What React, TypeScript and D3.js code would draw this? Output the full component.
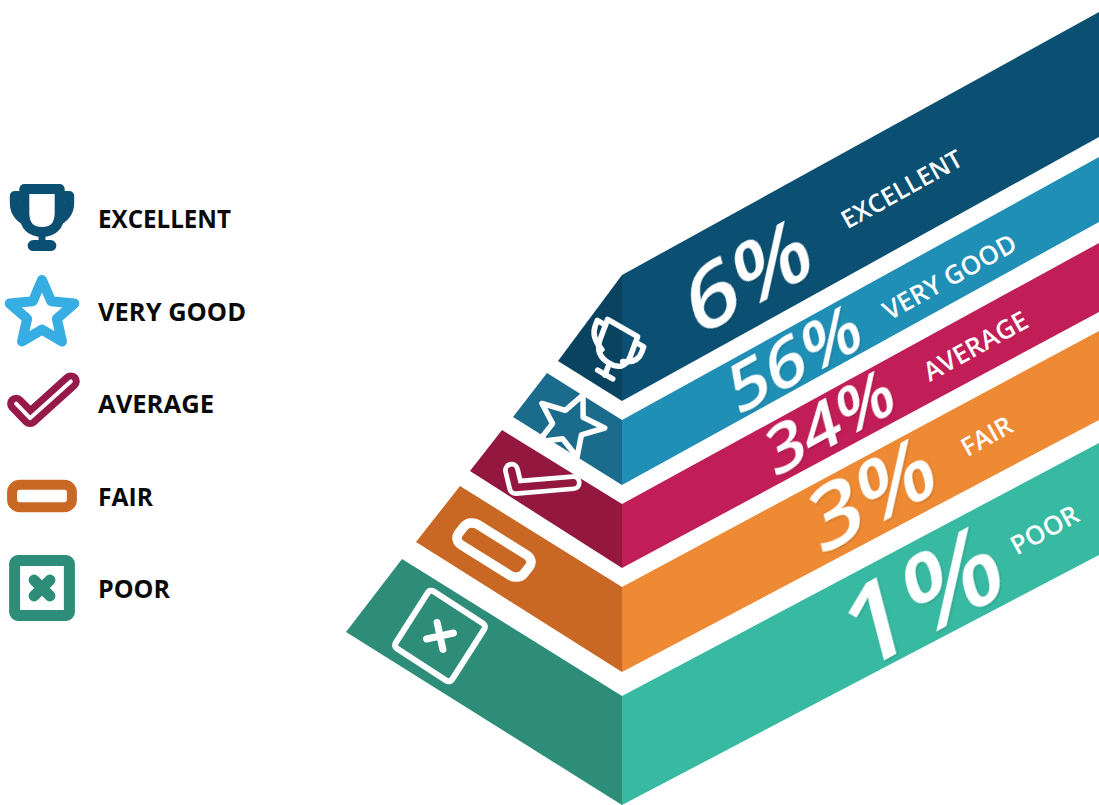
import React from "react";
import * as d3 from "d3";

// Survey ratings, from the top tier of the stack to the bottom
const categories = ["EXCELLENT", "VERY GOOD", "AVERAGE", "FAIR", "POOR"];
const shares = [6, 56, 34, 3, 1];
const iconKinds = ["trophy", "star", "check", "bar", "cross"];

// Palette per tier
const frontColors = ["#0b5072", "#208fb6", "#c11d56", "#ee8a33", "#38b9a2"];
const sideColors = ["#0a435f", "#1a6b8c", "#94173f", "#c96825", "#2e8d79"];
const legendColors = ["#0b5072", "#36ade3", "#951a4a", "#c96825", "#2e8d79"];

// Isometric outline of each tier: the ridge runs vertically at ridgeX
const ridgeX = 622;
const edgeX = 1099;
const ridgeTop = [275, 420, 504, 587, 696];
const ridgeBottom = [401, 485, 568, 672, 805];
const edgeTop = [12, 157, 243, 331, 443];
const edgeBottom = [137, 222, 312, 420, 555];
const sideFaces: [number, number][][] = [
  [[558, 361]],
  [[547, 373], [513, 417]],
  [[502, 430], [470, 471]],
  [[460, 486], [416, 542]],
  [[402, 559], [346, 632]],
];

// Placement of the large percentages and tier captions on the front face
const percentAt: [number, number, number][] = [
  [756, 305, 88],
  [801, 381, 67],
  [836, 444, 65],
  [880, 523, 88],
  [932, 634, 112],
];
const captionAt: [number, number][] = [
  [906, 197],
  [954, 285],
  [980, 354],
  [991, 444],
  [1049, 538],
];
const captionSize = [25, 26, 26, 25.5, 26];

// Legend text widths
const legendTextWidths = [133, 148, 116, 55, 72];

// Affine frame of each icon on the side face: x axis, y axis, centre
const sideFrames: number[][] = [
  [29, 16.5, -10.5, 28, 614, 351],
  [33, 12.9, -14, 30, 569, 425],
  [32, 18.3, -20.9, 25, 535, 483],
  [37, 23, -25, 31, 494, 550],
  [34, 22, -22, 34.5, 440, 636],
];
const legendFrames: [number, number, number][] = [
  [34, 42, 217],
  [34, 42, 314],
  [36, 42, 403],
  [34, 42, 496],
  [33, 42, 588],
];

const outline = d3.line<[number, number]>().curve(d3.curveLinearClosed);
const polyline = d3.line<[number, number]>();

const starTips: [number, number][] = d3.range(10).map((i) => {
  const r = i % 2 === 0 ? 1 : 0.46;
  const a = -Math.PI / 2 + (i * Math.PI) / 5;
  return [r * Math.cos(a), r * Math.sin(a)];
});
const checkPoints: [number, number][] = [
  [-0.72, 0.02],
  [-0.33, 0.42],
  [0.8, -0.6],
];

const NS = "non-scaling-stroke" as const;

function Trophy({ color, solid, frame }: { color: string; solid: boolean; frame: string }) {
  const w = solid ? 10 : 5.5;
  const common = { stroke: color, strokeLinecap: "round" as const, strokeLinejoin: "round" as const, vectorEffect: NS };
  return (
    <g transform={frame}>
      <path d="M-.52,-.62 H-.8 V-.42 Q-.8,-.02 -.36,.16" fill="none" strokeWidth={solid ? 10 : w} {...common} />
      <path d="M.52,-.62 H.8 V-.42 Q.8,-.02 .36,.16" fill="none" strokeWidth={solid ? 10 : w} {...common} />
      <path d="M-.52,-.82 H.52 V-.1 Q.5,.44 0,.44 Q-.5,.44 -.52,-.1 Z" fill={solid ? "#fff" : "none"} strokeWidth={w} {...common} />
      <path d="M0,.44 V.86" fill="none" strokeWidth={solid ? 7 : w} {...common} />
      <path d="M-.26,.84 H.26" fill="none" strokeWidth={solid ? 11 : w} {...common} />
    </g>
  );
}

function Icon({ kind, color, core, solid, frame, widths }: {
  kind: string; color: string; core: string; solid: boolean; frame: string; widths: number[];
}) {
  if (kind === "trophy") return <Trophy color={color} solid={solid} frame={frame} />;
  const round = { strokeLinejoin: "round" as const, strokeLinecap: "round" as const, vectorEffect: NS };
  if (kind === "star") {
    return (
      <g transform={frame}>
        <path d={outline(starTips) ?? ""} fill={solid ? "#fff" : "none"} stroke={color} strokeWidth={widths[0]} strokeLinejoin="round" vectorEffect={NS} />
      </g>
    );
  }
  if (kind === "check") {
    const d = polyline(checkPoints) ?? "";
    return (
      <g transform={frame}>
        <path d={d} fill="none" stroke={color} strokeWidth={widths[0]} {...round} />
        <path d={d} fill="none" stroke={core} strokeWidth={widths[1]} {...round} />
      </g>
    );
  }
  if (kind === "bar") {
    return (
      <g transform={frame}>
        <rect x={-0.88} y={-0.33} width={1.76} height={0.66} rx={0.22} ry={0.22} fill={core} stroke={color} strokeWidth={widths[0]} vectorEffect={NS} />
      </g>
    );
  }
  return (
    <g transform={frame}>
      <rect x={-0.83} y={-0.83} width={1.66} height={1.66} rx={0.1} fill={solid ? "#fff" : "none"} stroke={color} strokeWidth={widths[0]} strokeLinejoin="round" vectorEffect={NS} />
      <path d="M-.24,-.24 L.24,.24 M.24,-.24 L-.24,.24" fill="none" stroke={color} strokeWidth={widths[1]} {...round} />
    </g>
  );
}

const legendWidths: Record<string, number[]> = {
  star: [10],
  check: [18, 4],
  bar: [10],
  cross: [11, 11],
};
const sideWidths: Record<string, number[]> = {
  star: [5.5],
  check: [17, 7.5],
  bar: [9.5],
  cross: [6, 7],
};

export default function App() {
  const legendY = d3.scalePoint<string>().domain(categories).range([228, 598]);
  const font = "'Open Sans', sans-serif";

  return (
    <svg width={1099} height={805} viewBox="0 0 1099 805" style={{ position: "absolute", left: 0, top: 0, background: "#fff" }} fontFamily={font}>
      <defs>
        <filter id="lift" x="-20%" y="-20%" width="140%" height="140%">
          <feDropShadow dx="1" dy="1.5" stdDeviation="1.2" floodColor="#000" floodOpacity="0.16" />
        </filter>
      </defs>

      {categories.map((name, i) => {
        const front: [number, number][] = [
          [ridgeX, ridgeTop[i]],
          [edgeX, edgeTop[i]],
          [edgeX, edgeBottom[i]],
          [ridgeX, ridgeBottom[i]],
        ];
        const side: [number, number][] = [
          [ridgeX, ridgeTop[i]],
          ...sideFaces[i],
          [ridgeX, ridgeBottom[i]],
        ];
        return (
          <g key={name}>
            <path d={outline(side) ?? ""} fill={sideColors[i]} />
            <path d={outline(front) ?? ""} fill={frontColors[i]} />
          </g>
        );
      })}

      {categories.map((name, i) => {
        const [a, b, c, d, e, f] = sideFrames[i];
        const kind = iconKinds[i];
        return (
          <Icon
            key={name}
            kind={kind}
            color="#fff"
            core={sideColors[i]}
            solid={false}
            frame={`matrix(${a} ${b} ${c} ${d} ${e} ${f})`}
            widths={sideWidths[kind] ?? []}
          />
        );
      })}

      {categories.map((name, i) => {
        const [x, y, size] = percentAt[i];
        return (
          <text
            key={name}
            transform={`matrix(0.95 -0.525 0.25 0.96 ${x} ${y})`}
            textAnchor="middle"
            fontSize={size}
            fontWeight={600}
            fill="#fff"
            filter="url(#lift)"
          >
            {shares[i]}%
          </text>
        );
      })}

      {categories.map((name, i) => {
        const [x, y] = captionAt[i];
        return (
          <text
            key={name}
            transform={`translate(${x} ${y}) rotate(-29)`}
            textAnchor="middle"
            fontSize={captionSize[i]}
            fontWeight={600}
            fill="#fff"
          >
            {name}
          </text>
        );
      })}

      {categories.map((name, i) => {
        const [u, x, y] = legendFrames[i];
        const kind = iconKinds[i];
        return (
          <g key={name}>
            <Icon
              kind={kind}
              color={legendColors[i]}
              core="#fff"
              solid
              frame={`matrix(${u} 0 0 ${u} ${x} ${y})`}
              widths={legendWidths[kind] ?? []}
            />
            <text
              x={98}
              y={legendY(name)}
              fontSize={25}
              fontWeight={700}
              fill="#0a0a0a"
              textLength={legendTextWidths[i]}
              lengthAdjust="spacingAndGlyphs"
            >
              {name}
            </text>
          </g>
        );
      })}
    </svg>
  );
}
